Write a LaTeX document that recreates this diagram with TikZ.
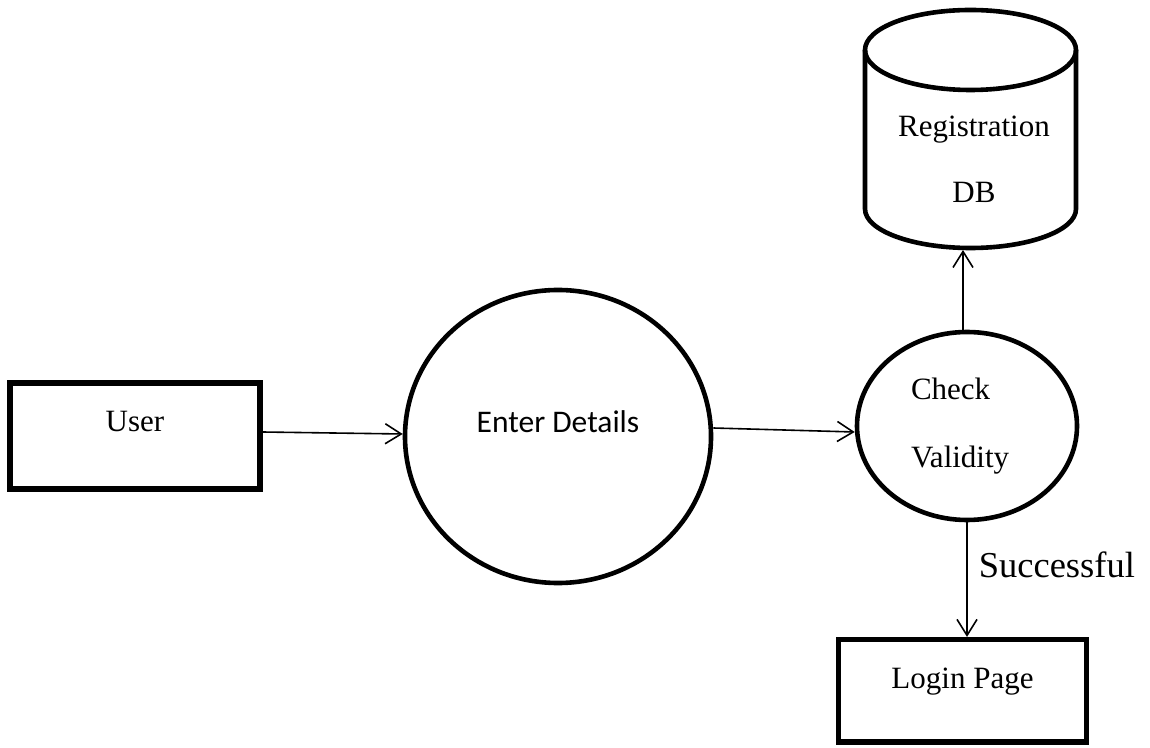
\documentclass[tikz,border=0pt]{standalone}
\usepackage{fontspec}
\setmainfont{Liberation Serif}
\newfontfamily\calibrifont{Carlito}
\usetikzlibrary{shapes.geometric,arrows.meta}
\begin{document}
\begin{tikzpicture}[x=1pt,y=1pt,
  every node/.style={font=\fontsize{31}{37}\selectfont, inner sep=0pt},
  bold/.style={line width=4.6pt},
  boxnode/.style={draw, line width=5.2pt, rectangle},
  flow/.style={line width=1.6pt, -{Straight Barb[length=16pt,width=20pt]}}
]
\useasboundingbox (0,0) rectangle (1150,747);

% external entities and process bubbles
\node[boxnode, minimum width=250pt, minimum height=106pt,
      text height=49pt, text depth=57pt] (user) at (135,311) {User};
\node[draw, bold, ellipse, minimum width=306pt, minimum height=293pt,
      text height=0pt, text depth=7pt,
      font=\calibrifont\fontsize{31.5}{37}\selectfont] (ed) at (558,310.5) {Enter Details};
\node[draw, bold, ellipse, minimum width=220pt, minimum height=188pt,
      text width=112pt, align=left, font=\fontsize{31}{68}\selectfont] (chk) at (967,321) {Check\\Validity};
\node[boxnode, minimum width=248pt, minimum height=102.5pt,
      text height=48.5pt, text depth=54pt] (login) at (962.5,56.25) {Login Page};

% data store drawn as a cylinder
\draw[bold] (970.5,697) ellipse [x radius=105.5, y radius=40];
\draw[bold] (865,697) -- (865,538)
  arc[start angle=180, end angle=360, x radius=105.5, y radius=39] -- (1076,697);
\node[align=center, font=\fontsize{31}{66}\selectfont] (db) at (974,587.5) {Registration\\DB};
\coordinate (dbbase) at (963,497);

% data flows
\draw[flow] ([yshift=4pt]user.east) -- ([yshift=2.5pt]ed.west);
\draw[flow] ([yshift=8.5pt]ed.east) -- ([yshift=-6pt]chk.west);
\draw[flow] (dbbase |- chk.north) -- (dbbase);
\draw[flow] (chk.south) -- node[pos=0.48, anchor=base west, xshift=11pt,
    font=\fontsize{36.5}{44}\selectfont] (succ) {Successful} (chk.south |- login.north);
\end{tikzpicture}
\end{document}
